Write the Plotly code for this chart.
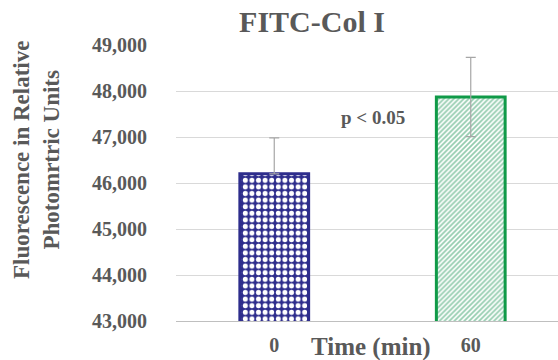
import plotly.graph_objects as go

categories = ["0", "60"]
means = [46200, 47870]
errors_plus = [780, 860]
errors_minus = [0, 860]
y_ticks = [43000, 44000, 45000, 46000, 47000, 48000, 49000]
y_tick_labels = ["43,000", "44,000", "45,000", "46,000", "47,000", "48,000", "49,000"]
p_label = "p < 0.05"

FONT = "Liberation Serif"
TXT = "#595959"
NAVY = "#2E2D8C"
GREEN = "#109A48"

fig = go.Figure()
fig.add_trace(go.Bar(
    x=[0], y=[means[0]], width=0.35,
    marker=dict(color=NAVY, line=dict(color=NAVY, width=3),
                pattern=dict(shape=".", fgcolor="white", bgcolor=NAVY, size=6.6, solidity=0.45,
                             fillmode="replace")),
    error_y=dict(type="data", symmetric=False, array=[errors_plus[0]], arrayminus=[errors_minus[0]],
                 color="#A6A6A6", thickness=1.2, width=5),
    showlegend=False,
))
fig.add_trace(go.Bar(
    x=[1], y=[means[1]], width=0.35,
    marker=dict(color="white", line=dict(color=GREEN, width=3),
                pattern=dict(shape="/", fgcolor="#2A9A60", bgcolor="white", size=3.5, solidity=0.5)),
    error_y=dict(type="data", symmetric=False, array=[errors_plus[1]], arrayminus=[errors_minus[1]],
                 color="#A6A6A6", thickness=1.2, width=5),
    showlegend=False,
))

fig.update_layout(
    width=558, height=360,
    margin=dict(l=176, r=0, t=45, b=39),
    plot_bgcolor="white", paper_bgcolor="white",
    barmode="overlay",
    font=dict(family=FONT, color=TXT),
    title=dict(text="<b>FITC-Col I</b>", x=312/558, xanchor="center", y=1-21/360, yanchor="middle",
               font=dict(family=FONT, size=30, color=TXT)),
    xaxis=dict(range=[-0.5, 1.444], tickvals=[0, 1], ticktext=[f"<b>{c}</b>" for c in categories],
               showgrid=False, zeroline=False, showline=True, linecolor="#BFBFBF", linewidth=1,
               ticks="", ticklabelstandoff=6, tickfont=dict(family=FONT, size=20, color=TXT)),
    yaxis=dict(range=[43000, 49000], tickvals=y_ticks, ticktext=[f"<b>{t}</b>" for t in y_tick_labels],
               showgrid=True, gridcolor="#D9D9D9", gridwidth=1, zeroline=False, ticks="",
               ticklabelstandoff=28, tickfont=dict(family=FONT, size=20, color=TXT)),
    annotations=[
        dict(text=f"<b>{p_label}</b>", x=0.5, y=47420, xref="x", yref="y", showarrow=False,
             font=dict(family=FONT, size=19, color=TXT)),
        dict(text="<b>Fluorescence in Relative<br>Photomrtric Units</b>", textangle=-90,
             xref="paper", yref="paper", x=(36-176)/382, y=(321-160)/276, xanchor="center", yanchor="middle",
             showarrow=False, font=dict(family=FONT, size=23, color=TXT)),
        dict(text="<b>Time (min)</b>", xref="paper", yref="paper", x=(371-176)/382, y=(321-347)/276,
             xanchor="center", yanchor="middle", showarrow=False, font=dict(family=FONT, size=25, color=TXT)),
    ],
)

fig.write_html("out.html")
